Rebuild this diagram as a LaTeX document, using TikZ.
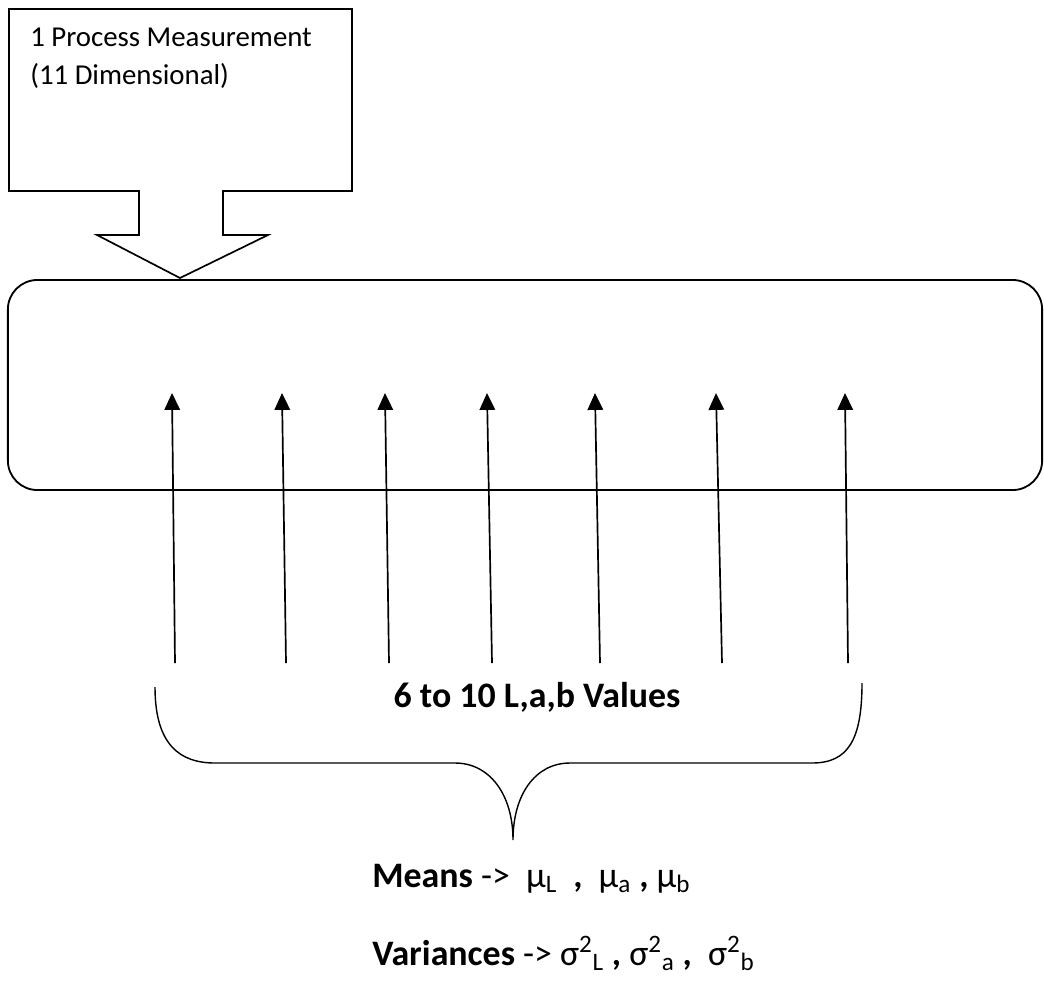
\documentclass[tikz,border=0pt]{standalone}
\usepackage{fontspec}
\setmainfont{Carlito}
\usepackage{tikz}
\usetikzlibrary{arrows.meta,positioning,calc}

\newcommand{\meanof}[1]{{\mdseries μ\textsubscript{#1}}}
\newcommand{\varof}[1]{{\mdseries σ\textsuperscript{2}\textsubscript{#1}}}
\newcommand{\goesto}{{\mdseries ->}}

\begin{document}
\begin{tikzpicture}[
    x=0.025cm, y=-0.025cm,
    callout/.style={draw=black, line width=1.2pt, line join=miter},
    frame/.style={rectangle, draw=black, line width=1.3pt, rounded corners=21pt, inner sep=0pt, minimum width=25.85cm, minimum height=5.25cm},
    valarrow/.style={-{Triangle[width=11pt,length=12pt]}, line width=1.2pt},
    bracket/.style={draw=black, line width=1pt},
    boxtext/.style={font=\fontsize{20.5}{27}\selectfont, align=left, inner sep=0pt, anchor=north west},
    biglabel/.style={font=\bfseries\fontsize{25.5}{30}\selectfont, inner sep=0pt}
]
  \useasboundingbox (0,0) rectangle (1044,980);

  % measurement callout
  \draw[callout] (9,9) -- (352,9) -- (352,191) -- (223,191) -- (223,235) -- (268,235)
    -- (180,278) coordinate (calltip) -- (97,235) -- (139,235) -- (139,191) -- (9,191) -- cycle;
  \node[boxtext] (meas) at (30,28) {1 Process Measurement\\(11 Dimensional)};

  % process frame
  \node[frame] (procframe) at (525,385) {};

  % value arrows
  \foreach \i/\xt/\xh in {1/175/172, 2/286/282, 3/389/385, 4/492/487, 5/600/595, 6/722/716, 7/848/845} {
    \coordinate (tail\i) at (\xt,663);
    \coordinate (head\i) at (\xh,393);
    \draw[valarrow] (tail\i) -- (head\i);
  }

  \node[biglabel, anchor=base] (vals) at (537,707) {6 to 10 L,a,b Values};

  % brace
  \coordinate (bracetip) at (513,840);
  \draw[bracket] (155,687) .. controls (155,745) and (180,763) .. (215,763) -- (455,763)
    .. controls (490,763) and (513,795) .. (bracetip)
    .. controls (513,795) and (535,763) .. (570,763) -- (812,763)
    .. controls (848,763) and (862,740) .. (862,683);

  \node[biglabel, anchor=base west] (means) at (372,887) {Means \goesto\ \ \meanof{L} \ , \ \meanof{a} , \meanof{b}};
  \node[biglabel, anchor=base west] (vars) at (372,965) {Variances \goesto\ \varof{L} , \varof{a} , \ \varof{b}};
\end{tikzpicture}
\end{document}
